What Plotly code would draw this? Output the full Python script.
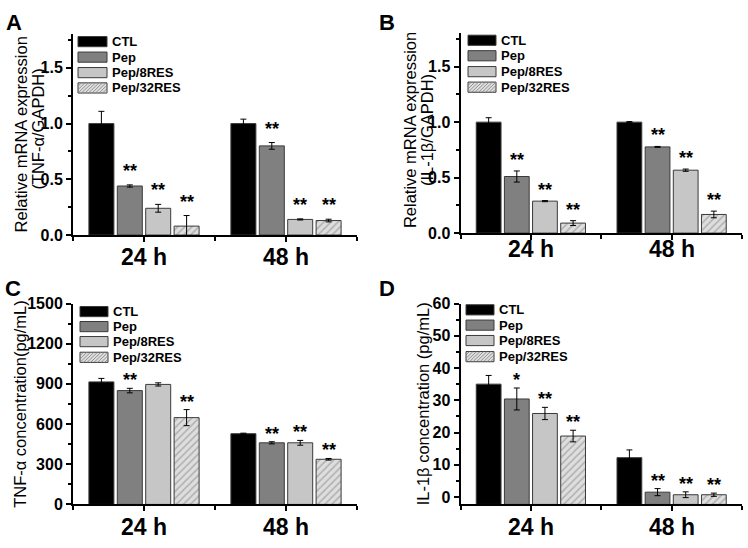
import plotly.graph_objects as go

W, H = 748, 548
FONT = "Liberation Sans"

groups = ["24 h", "48 h"]
series = ["CTL", "Pep", "Pep/8RES", "Pep/32RES"]

# Panel A: TNF-a mRNA (relative)
a_means = [[1.00, 1.00], [0.44, 0.80], [0.24, 0.14], [0.08, 0.13]]
a_errs = [[0.11, 0.04], [0.01, 0.03], [0.035, 0.005], [0.095, 0.012]]
a_stars = [["", ""], ["**", "**"], ["**", "**"], ["**", "**"]]

# Panel B: IL-1b mRNA (relative)
b_means = [[1.00, 1.00], [0.51, 0.777], [0.288, 0.567], [0.09, 0.168]]
b_errs = [[0.04, 0.005], [0.05, 0.004], [0.005, 0.01], [0.022, 0.03]]
b_stars = [["", ""], ["**", "**"], ["**", "**"], ["**", "**"]]

# Panel C: TNF-a concentration (pg/mL)
c_means = [[915, 528], [850, 460], [896, 460], [648, 337]]
c_errs = [[26, 4], [17, 8], [12, 18], [60, 6]]
c_stars = [["", ""], ["**", "**"], ["", "**"], ["**", "**"]]

# Panel D: IL-1b concentration (pg/mL)
d_means = [[35.0, 12.2], [30.4, 1.5], [25.9, 0.7], [18.9, 0.7]]
d_errs = [[2.7, 2.4], [3.4, 1.1], [1.9, 0.9], [1.8, 0.5]]
d_stars = [["", ""], ["*", "**"], ["**", "**"], ["**", "**"]]

COLORS = ["#000000", "#808080", "#c6c6c6", "#dedede"]
EDGE = "#3a3a3a"
HATCH_FG = "#808080"
BARGAP, GROUPGAP = 0.2, 0.12


def px(x):
    return x / W


def py(y):
    return 1 - y / H


panels = [
    dict(k="", means=a_means, errs=a_errs, stars=a_stars,
         titles=[("Relative mRNA expression", 20.5, 131), ("(TNF-α/GAPDH)", 38.5, 125)],
         xd=(73, 357), yd=(27.3, 234.3), yr=(0, 1.8), dt=0.5, mn=0.25, fmt=".1f",
         xlab_y=256.5,
         letter=("A", 4, 0), leg=dict(x0=78, x1=107, ys=[34.7, 50.7, 66.7, 82.5], tx=110),
         shift=14),
    dict(k="2", means=b_means, errs=b_errs, stars=b_stars,
         titles=[("Relative mRNA expression", 410, 126), ("(IL-1β/GAPDH)", 427, 126)],
         xd=(460.5, 742), yd=(26.2, 232.3), yr=(0, 1.8), dt=0.5, mn=0.25, fmt=".1f",
         xlab_y=249,
         letter=("B", 377, 0), leg=dict(x0=468, x1=496, ys=[33.3, 49.3, 65.7, 81.7], tx=499),
         shift=11),
    dict(k="3", means=c_means, errs=c_errs, stars=c_stars,
         titles=[("TNF-α concentration(pg/mL)", 20, 408.5)],
         xd=(73, 357), yd=(305, 512.3), yr=(0, 1500), dt=300, mn=150, fmt="d",
         xlab_y=535.5,
         letter=("C", 3, 275), leg=dict(x0=80, x1=108, ys=[313.3, 328.8, 344.3, 360.5], tx=111),
         shift=8),
    dict(k="4", means=d_means, errs=d_errs, stars=d_stars,
         titles=[("IL-1β concentration (pg/mL)", 422.5, 408.5)],
         xd=(460.5, 742), yd=(305, 512.3), yr=(-2.3, 60), dt=10, mn=5, fmt="d",
         xlab_y=535.5,
         letter=("D", 377, 275), leg=dict(x0=466, x1=494, ys=[311.5, 327.3, 343.2, 359.8], tx=497),
         shift=8),
]

fig = go.Figure()
shapes = []
annotations = []
xvals = list(range(len(groups)))
slot = (1 - BARGAP) / len(series)
offsets = [-(1 - BARGAP) / 2 + slot * (i + 0.5) for i in range(len(series))]

for p in panels:
    k = p["k"]
    base = p["yr"][0] if p["yr"][0] < 0 else 0
    for si, name in enumerate(series):
        hatch = si == 3
        marker = dict(color=COLORS[si], line=dict(color=EDGE, width=1))
        if hatch:
            marker["pattern"] = dict(shape="/", fgcolor=HATCH_FG, bgcolor=COLORS[3],
                                     size=5, solidity=0.3)
        fig.add_trace(go.Bar(
            x=xvals, y=[v - base for v in p["means"][si]], base=base,
            name=name, marker=marker, showlegend=False,
            error_y=dict(type="data", array=p["errs"][si], color="black",
                         thickness=1, width=3),
            xaxis="x" + k, yaxis="y" + k))
        for gi in range(len(groups)):
            st = p["stars"][si][gi]
            if st:
                annotations.append(dict(
                    x=gi + offsets[si], y=p["means"][si][gi] + p["errs"][si][gi],
                    xref="x" + k, yref="y" + k, text="<b>%s</b>" % st, showarrow=False,
                    yanchor="middle", yshift=p["shift"],
                    font=dict(family=FONT, size=18, color="black")))

    axis_common = dict(showline=True, linecolor="black", linewidth=2, showgrid=False,
                       zeroline=False, ticks="outside", tickcolor="black", tickwidth=1.5)
    fig.layout["xaxis" + k] = dict(
        axis_common, domain=[px(p["xd"][0]), px(p["xd"][1])], range=[-0.5, 1.5],
        tickmode="array", tickvals=xvals, ticktext=groups, ticklen=5,
        showticklabels=False,
        minor=dict(tickvals=[-0.5, 0.5, 1.5], ticks="outside", ticklen=4,
                   tickcolor="black", tickwidth=1.5),
        anchor="y" + k)
    fig.layout["yaxis" + k] = dict(
        axis_common, domain=[py(p["yd"][1]), py(p["yd"][0])], range=list(p["yr"]),
        tick0=0, dtick=p["dt"], tickformat=p["fmt"], ticklen=5,
        tickfont=dict(family=FONT, size=16, color="black", weight="bold"),
        minor=dict(dtick=p["mn"], tick0=0, ticks="outside", ticklen=3,
                   tickcolor="black", tickwidth=1.5),
        anchor="x" + k)

    # category labels under the x axis
    for gi, g in enumerate(groups):
        annotations.append(dict(x=gi, y=py(p["xlab_y"]), xref="x" + k, yref="paper",
                                text="<b>%s</b>" % g, showarrow=False, xanchor="center",
                                yanchor="middle",
                                font=dict(family=FONT, size=23, color="black")))

    for (t, xc, yc) in p["titles"]:
        annotations.append(dict(x=px(xc), y=py(yc), xref="paper", yref="paper", text=t,
                                textangle=-90, showarrow=False, xanchor="center",
                                yanchor="middle",
                                font=dict(family=FONT, size=16.5, color="black")))
    L, lx, ly = p["letter"]
    annotations.append(dict(x=px(lx), y=py(ly), xref="paper", yref="paper",
                            text="<b>%s</b>" % L, showarrow=False, xanchor="left",
                            yanchor="top", font=dict(family=FONT, size=22, color="black")))

    lg = p["leg"]
    h = 10.5
    for si, name in enumerate(series):
        yc = lg["ys"][si]
        yt, yb = yc - h / 2, yc + h / 2
        shapes.append(dict(type="rect", xref="paper", yref="paper",
                           x0=px(lg["x0"]), x1=px(lg["x1"]), y0=py(yb), y1=py(yt),
                           fillcolor=COLORS[si],
                           line=dict(color=EDGE, width=1)))
        if si == 3:
            segs = []
            c = lg["x0"] - h
            while c < lg["x1"]:
                xa, ya = c, yb
                xb, yb2 = c + h, yt
                if xa < lg["x0"]:
                    ya = yb - (lg["x0"] - xa)
                    xa = lg["x0"]
                if xb > lg["x1"]:
                    yb2 = yt + (xb - lg["x1"])
                    xb = lg["x1"]
                segs.append("M%.5f,%.5f L%.5f,%.5f" % (px(xa), py(ya), px(xb), py(yb2)))
                c += 3.5
            shapes.append(dict(type="path", xref="paper", yref="paper", path=" ".join(segs),
                               line=dict(color=HATCH_FG, width=0.8)))
        annotations.append(dict(x=px(lg["tx"]), y=py(yc), xref="paper", yref="paper",
                                text="<b>%s</b>" % name, showarrow=False, xanchor="left",
                                yanchor="middle",
                                font=dict(family=FONT, size=13, color="black")))

fig.update_layout(
    width=W, height=H, margin=dict(l=0, r=0, t=0, b=0),
    paper_bgcolor="white", plot_bgcolor="white",
    barmode="group", bargap=BARGAP, bargroupgap=GROUPGAP,
    showlegend=False, shapes=shapes, annotations=annotations,
    font=dict(family=FONT, color="black"),
)

fig.write_html("out.html", config={"displayModeBar": False},
               post_script="document.body.style.margin='0';document.body.style.padding='0';")
